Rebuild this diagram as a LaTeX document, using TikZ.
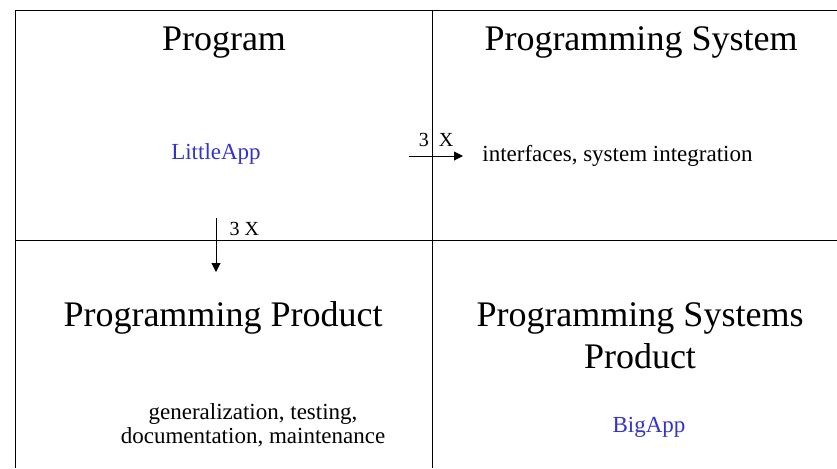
\documentclass[tikz,border=0pt]{standalone}
\usepackage{fontspec}
\setmainfont{LiberationSerif}[Extension=.ttf,UprightFont=*-Regular,BoldFont=*-Bold]
\usetikzlibrary{arrows.meta,positioning}
\definecolor{appblue}{RGB}{51,51,204}

\begin{document}
\begin{tikzpicture}[x=0.5pt,y=-0.5pt,
  title/.style={font=\fontsize{18}{21}\selectfont,inner sep=0pt,anchor=base,align=center},
  app/.style={font=\fontsize{11.5}{12}\selectfont,text=appblue,inner sep=0pt,anchor=base},
  note/.style={font=\fontsize{11.5}{12}\selectfont,inner sep=0pt,align=center},
  factor/.style={font=\fontsize{10}{12}\selectfont,inner sep=0pt},
  arr/.style={-{Triangle[length=4.5pt,width=4.5pt]},line width=0.5pt}
]
\useasboundingbox (0,0) rectangle (837,468);

% quadrants
\draw[line width=0.5pt] (837,10) -- (15,10) -- (15,468);
\draw[line width=0.5pt] (432,10) -- (432,468);
\draw[line width=0.5pt] (15,240) -- (837,240);

% titles
\node[title] (program) at (224,50) {Program};
\node[title] (system) at (641,50) {Programming System};
\node[title] (product) at (223,326) {Programming Product};
\node[title] (sysproduct) at (640,368) {Programming Systems\\Product};

% contents
\node[app] (little) at (216,159) {LittleApp};
\node[app] (big) at (649,432) {BigApp};
\node[note,anchor=base west] (interfaces) at (482,161) {interfaces, system integration};
\node[note,anchor=base] (general) at (253,443) {generalization, testing,\\documentation, maintenance};

% the two 3 X steps
\coordinate (hstart) at (409,156);
\coordinate (hend) at (463,156);
\coordinate (vstart) at (216,218);
\coordinate (vend) at (216,272);
\draw[arr] (hstart) -- node[factor,anchor=base,yshift=5pt] (hfactor) {3\enspace X} (hend);
\draw[arr] (vstart) -- node[pos=0,factor,anchor=base west,xshift=6.5pt,yshift=-8.5pt] (vfactor) {3 X} (vend);
\end{tikzpicture}
\end{document}
